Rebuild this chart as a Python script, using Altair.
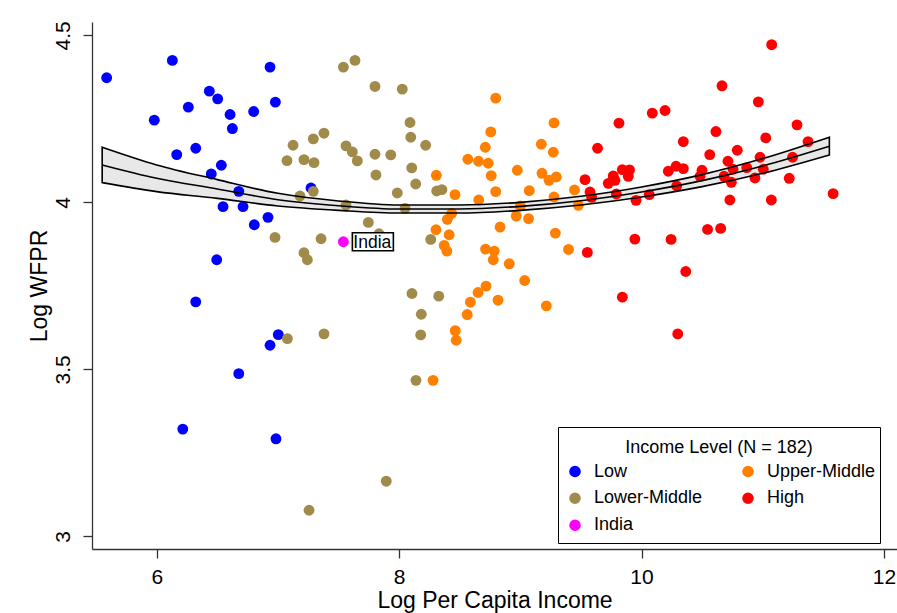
import altair as alt
import pandas as pd

FONT = "Liberation Sans"

# ---- data ----
low_x = [5.587, 6.129, 6.935, 5.98, 6.261, 6.434, 6.503, 6.605, 6.624, 6.80, 6.979, 6.165, 6.322, 6.533,
         6.45, 6.677, 6.547, 6.712, 6.805, 6.918, 6.495, 6.322, 7.273, 7.003, 6.935, 6.677, 6.215, 6.984]
low_y = [4.373, 4.425, 4.405, 4.246, 4.285, 4.333, 4.310, 4.263, 4.221, 4.272, 4.300, 4.143, 4.162, 4.111,
         4.085, 4.033, 3.987, 3.987, 3.933, 3.955, 3.828, 3.702, 4.043, 3.604, 3.572, 3.487, 3.321, 3.292]

lm_x = [7.540, 7.636, 7.801, 8.026, 8.090, 8.096, 8.219, 7.292, 7.380, 7.562, 7.614, 7.655, 7.801, 7.931,
        7.215, 7.298, 7.809, 8.104, 8.137, 7.292, 7.985, 8.310, 8.353, 7.562, 8.049, 7.746, 7.834, 7.356,
        8.261, 7.215, 7.243, 8.106, 8.327, 7.125, 7.075, 7.182, 6.976, 7.078, 7.380, 8.183, 8.178, 8.139,
        7.894, 7.257]
lm_y = [4.405, 4.425, 4.347, 4.339, 4.239, 4.195, 4.171, 4.190, 4.207, 4.169, 4.151, 4.124, 4.144, 4.142,
        4.128, 4.119, 4.082, 4.103, 4.055, 4.033, 4.028, 4.034, 4.038, 3.992, 3.982, 3.940, 3.906, 3.891,
        3.889, 3.849, 3.828, 3.727, 3.719, 4.171, 4.125, 4.019, 3.895, 3.592, 3.606, 3.665, 3.603, 3.467,
        3.165, 3.078]

um_x = [8.797, 9.278, 8.756, 8.711, 9.173, 9.272, 8.567, 8.655, 8.735, 8.975, 8.307, 8.760, 9.179, 9.237,
        9.297, 8.461, 8.797, 9.074, 9.447, 9.278, 8.657, 9.000, 9.479, 8.434, 8.398, 8.966, 9.068, 8.833,
        8.304, 8.413, 9.289, 8.372, 8.394, 8.713, 8.785, 8.777, 8.909, 9.398, 9.036, 8.717, 8.651, 8.816,
        8.588, 9.215, 8.562, 8.463, 8.471, 8.280]
um_y = [4.312, 4.238, 4.211, 4.165, 4.174, 4.150, 4.129, 4.123, 4.117, 4.096, 4.081, 4.080, 4.087, 4.066,
        4.076, 4.023, 4.032, 4.035, 4.037, 4.016, 4.007, 3.989, 3.991, 3.967, 3.949, 3.959, 3.951, 3.926,
        3.918, 3.903, 3.908, 3.871, 3.854, 3.860, 3.854, 3.828, 3.816, 3.859, 3.766, 3.749, 3.730, 3.707,
        3.701, 3.690, 3.664, 3.616, 3.587, 3.467]

hi_x = [11.074, 10.664, 10.964, 10.089, 10.194, 9.814, 10.614, 11.283, 10.345, 11.025, 11.374, 9.637,
        10.563, 10.790, 10.713, 10.755, 10.978, 11.005, 11.246, 10.868, 9.842, 9.901, 9.891, 9.767, 9.726,
        9.781, 10.221, 10.285, 10.345, 10.499, 10.483, 10.681, 10.741, 10.936, 11.219, 10.290, 9.792,
        9.955, 10.064, 10.729, 11.071, 11.581, 9.945, 10.244, 10.545, 10.653, 10.365, 9.842, 9.534, 9.575,
        9.589, 9.553, 10.299]
hi_y = [4.472, 4.349, 4.301, 4.267, 4.275, 4.237, 4.212, 4.232, 4.182, 4.193, 4.182, 4.162, 4.143, 4.156,
        4.123, 4.099, 4.135, 4.099, 4.135, 4.104, 4.098, 4.097, 4.078, 4.079, 4.057, 4.066, 4.093, 4.108,
        4.101, 4.096, 4.078, 4.078, 4.060, 4.073, 4.072, 4.049, 4.025, 4.006, 4.023, 4.007, 4.007, 4.026,
        3.890, 3.889, 3.919, 3.922, 3.793, 3.716, 4.068, 4.031, 4.015, 3.850, 3.606]

india_x = [7.540]
india_y = [3.882]

# quadratic fit with 95% CI band
fit_x = [5.55, 6.0, 6.5, 7.0, 7.5, 8.0, 8.5, 9.0, 9.5, 10.0, 10.5, 11.0, 11.55]
fit_mid = [4.112, 4.072, 4.040, 4.008, 3.990, 3.980, 3.980, 3.988, 4.005, 4.031, 4.065, 4.109, 4.168]
fit_lo = [4.059, 4.032, 4.012, 3.989, 3.976, 3.968, 3.968, 3.976, 3.992, 4.016, 4.047, 4.087, 4.142]
fit_hi = [4.165, 4.112, 4.068, 4.027, 4.004, 3.992, 3.992, 4.000, 4.018, 4.046, 4.083, 4.131, 4.195]

legend_order = ["Low", "Lower-Middle", "India", "Upper-Middle", "High"]
colors = {"Low": "#0000ff", "Upper-Middle": "#ff8000", "Lower-Middle": "#a08b4b",
          "High": "#ff0000", "India": "#ff00ff"}

rows = []
order = 0
for g, xs, ys in [("Low", low_x, low_y), ("Lower-Middle", lm_x, lm_y),
                  ("Upper-Middle", um_x, um_y), ("High", hi_x, hi_y), ("India", india_x, india_y)]:
    for a, b in zip(xs, ys):
        rows.append({"x": a, "y": b, "group": g, "ord": order})
        order += 1
pts = pd.DataFrame(rows)
fit = pd.DataFrame({"x": fit_x, "mid": fit_mid, "lo": fit_lo, "hi": fit_hi})
india = pd.DataFrame({"x": india_x, "y": india_y, "label": ["India"]})

xscale = alt.Scale(domain=[5.466, 12.108], nice=False, zero=False)
yscale = alt.Scale(domain=[2.962, 4.540], nice=False, zero=False)

xaxis = alt.Axis(values=[6, 8, 10, 12], format="d", title="Log Per Capita Income", labelFlush=False,
                 labelPadding=8, titlePadding=2)
yaxis = alt.Axis(values=[3, 3.5, 4, 4.5], title="Log WFPR", labelAngle=270, labelAlign="center",
                 labelBaseline="bottom", labelPadding=10, titlePadding=1, labelFlush=False,
                 labelExpr="datum.value == 3 ? '3' : datum.value == 4 ? '4' : datum.label")

band_fill = alt.Chart(fit).mark_area(color="#e8e8e8", opacity=1, interpolate="monotone").encode(
    x=alt.X("x:Q", scale=xscale, axis=xaxis),
    y=alt.Y("lo:Q", scale=yscale, axis=yaxis),
    y2="hi:Q",
)

points = alt.Chart(pts).mark_circle(size=118, opacity=1).encode(
    x=alt.X("x:Q", scale=xscale),
    y=alt.Y("y:Q", scale=yscale),
    color=alt.Color("group:N",
                    scale=alt.Scale(domain=legend_order, range=[colors[g] for g in legend_order]),
                    legend=alt.Legend(title="Income Level (N = 182)", orient="none",
                                      legendX=466, legendY=405, columns=2, direction="vertical",
                                      labelExpr="(datum.label == 'Upper-Middle' || datum.label == 'High') ? datum.label + '    ' : datum.label")),
    order=alt.Order("ord:Q"),
)

band_line = alt.Chart(fit).mark_area(fillOpacity=0, stroke="black", strokeWidth=1.6,
                                     interpolate="monotone").encode(
    x=alt.X("x:Q", scale=xscale),
    y=alt.Y("lo:Q", scale=yscale),
    y2="hi:Q",
)
mid_line = alt.Chart(fit).mark_line(color="black", strokeWidth=1.6, interpolate="monotone").encode(
    x=alt.X("x:Q", scale=xscale),
    y=alt.Y("mid:Q", scale=yscale),
)

label_box = alt.Chart(india).mark_rect(fill="white", stroke="black", strokeWidth=1.6,
                                       xOffset=9, x2Offset=50, yOffset=-9, y2Offset=9).encode(
    x=alt.X("x:Q", scale=xscale), x2="x:Q",
    y=alt.Y("y:Q", scale=yscale), y2="y:Q",
)
label_text = alt.Chart(india).mark_text(align="left", baseline="middle", dx=10, dy=1,
                                        fontSize=17.5, font=FONT, color="black").encode(
    x=alt.X("x:Q", scale=xscale),
    y=alt.Y("y:Q", scale=yscale),
    text="label:N",
)

chart = alt.layer(band_fill, points, band_line, mid_line, label_box, label_text).properties(
    width=805, height=527,
    autosize=alt.AutoSizeParams(type="none"),
    padding={"left": 92, "top": 22, "right": 0, "bottom": 64},
).configure_view(stroke=None).configure_axis(
    grid=False, domainColor="#333333", tickColor="#333333", domainWidth=1.3, tickWidth=1.3,
    tickSize=9, labelFont=FONT, titleFont=FONT, labelFontSize=21, titleFontSize=23,
    labelColor="black", titleColor="black", titleFontWeight="normal",
).configure_legend(
    strokeColor="black", fillColor="white", padding=4, cornerRadius=0,
    titleFont=FONT, labelFont=FONT, titleFontSize=18, labelFontSize=18,
    titleFontWeight="normal", titleColor="black", labelColor="black",
    titleAnchor="middle", titleBaseline="line-top", titleLineHeight=34,
    titlePadding=9, titleLimit=600, labelLimit=400,
    symbolSize=135, symbolType="circle", clipHeight=26.5, symbolOffset=4,
    symbolStrokeWidth=0, rowPadding=0, columnPadding=32, labelOffset=10,
)

chart.save("out.html", embed_options={"renderer": "svg", "actions": False})
